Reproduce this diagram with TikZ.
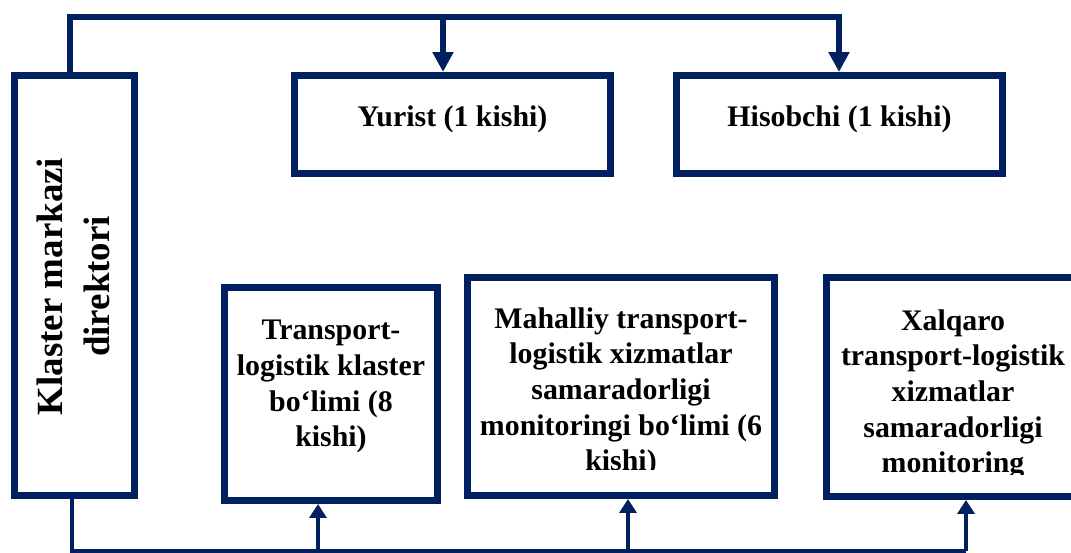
\documentclass[tikz,border=0pt]{standalone}
\usepackage{fontspec}
\setmainfont{Liberation Serif}
\usetikzlibrary{arrows.meta}
\definecolor{navy}{RGB}{0,32,96}

\begin{document}
\begin{tikzpicture}[x=0.02cm,y=-0.02cm,
        box/.style={draw=navy,line width=0.13cm,inner sep=0pt},
        lbl/.style={font=\fontsize{17}{20.3}\selectfont\bfseries,align=center,inner sep=0pt},
        topline/.style={navy,line width=0.12cm},
        toparr/.style={topline,-{Triangle[width=0.4cm,length=0.4cm]}},
        botline/.style={navy,line width=0.08cm},
        botarr/.style={botline,-{Triangle[width=0.34cm,length=0.28cm]}}]
    \useasboundingbox (0,0) rectangle (1071,553);
    \clip (0,0) rectangle (1071,553);

    % boxes
    \node[box,minimum width=2.41cm,minimum height=8.41cm] (dir) at (74.5,285.5) {};
    \node[box,minimum width=6.33cm,minimum height=1.97cm] (yur) at (452.5,124.5) {};
    \node[box,minimum width=6.53cm,minimum height=1.97cm] (his) at (839.5,124.5) {};
    \node[box,minimum width=4.27cm,minimum height=4.27cm] (tra) at (331,394) {};
    \node[box,minimum width=6.15cm,minimum height=4.37cm] (mah) at (621,386.5) {};
    \node[box,minimum width=5.07cm,minimum height=4.39cm] (xal) at (953,387) {};

    % texts
    \node[lbl,font=\fontsize{21}{26.6}\selectfont\bfseries,rotate=90] (dirT) at (73.5,286.5) {Klaster markazi\\direktori};
    \node[lbl,anchor=base] (yurT) at (452.5,127) {Yurist (1 kishi)};
    \node[lbl,anchor=base] (hisT) at (839.5,127) {Hisobchi (1 kishi)};
    \node[lbl,anchor=north] (traT) at (331,320) {Transport-\\logistik klaster\\bo‘limi (8\\kishi)};
    \begin{scope}
        \clip (464,274) rectangle (778,469);
        \node[lbl,anchor=north] (mahT) at (621,307) {Mahalliy transport-\\logistik xizmatlar\\samaradorligi\\monitoringi bo‘limi (6\\kishi)};
    \end{scope}
    \begin{scope}
        \clip (823,274) rectangle (1083,474);
        \node[lbl,anchor=north] (xalT) at (953,309) {Xalqaro\\transport-logistik\\xizmatlar\\samaradorligi\\monitoring};
    \end{scope}

    % top connectors
    \coordinate (tl) at (69.5,17);
    \coordinate (ty) at (443,17);
    \coordinate (th) at (839,17);
    \draw[topline,line cap=rect] (tl |- dir.north) -- (tl) -- (th);
    \draw[toparr] (ty) -- (ty |- yur.north);
    \draw[toparr] (th) -- (th |- his.north);

    % bottom connectors
    \coordinate (b0) at (72,551);
    \coordinate (b1) at (318,551);
    \coordinate (b2) at (628,551);
    \coordinate (b3) at (966,551);
    \draw[botline] (b0 |- dir.south) -- (b0) -- (b3);
    \draw[botarr] (b1) -- (b1 |- tra.south);
    \draw[botarr] (b2) -- (b2 |- mah.south);
    \draw[botarr] (b3) -- (b3 |- xal.south);
\end{tikzpicture}
\end{document}
